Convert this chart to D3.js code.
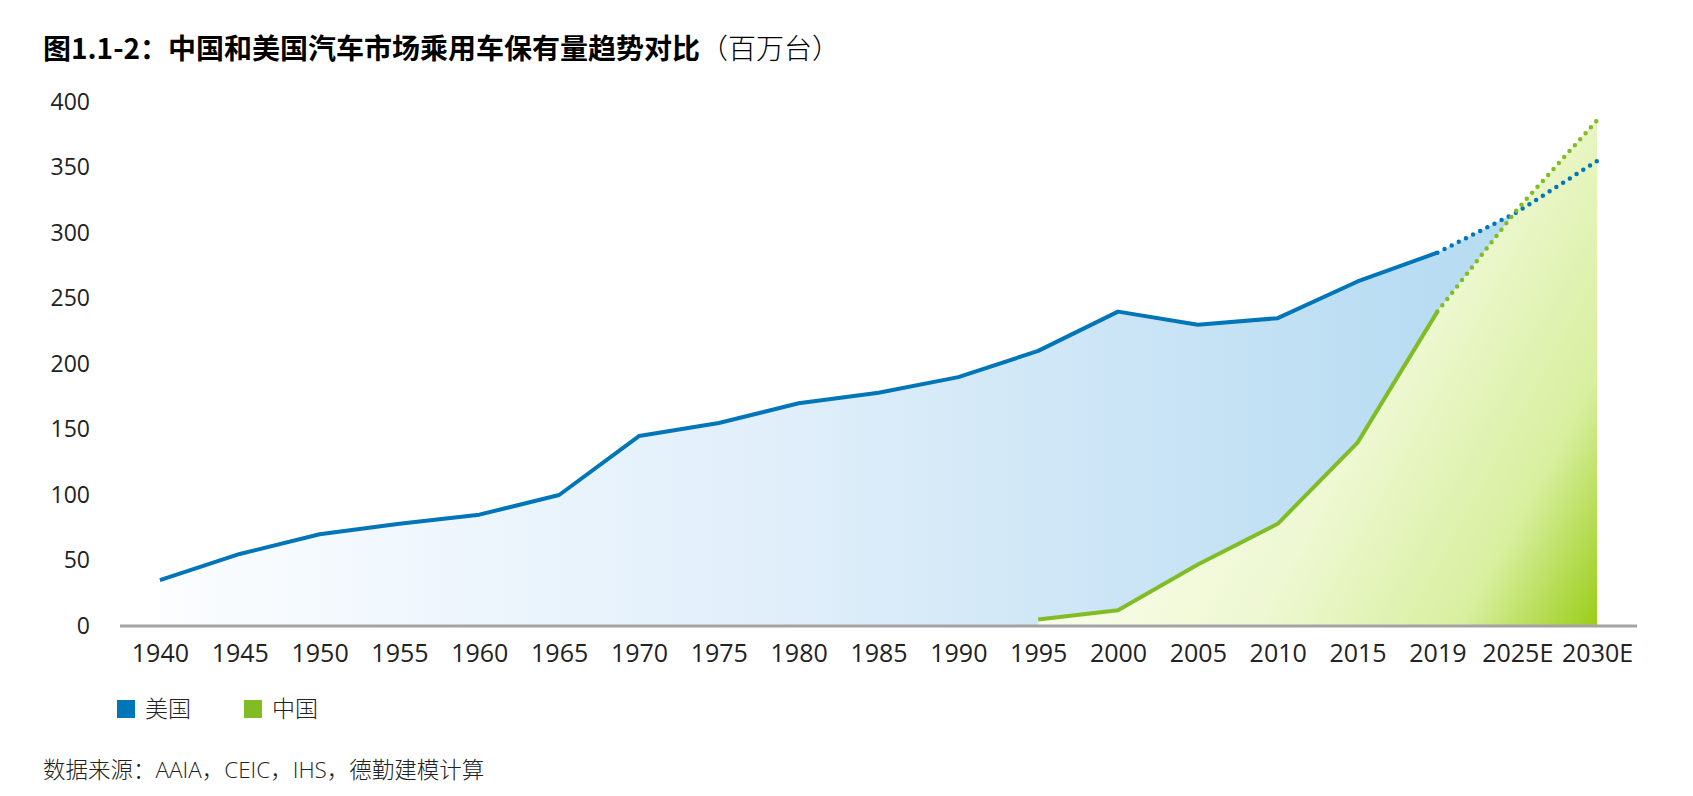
<!DOCTYPE html>
<html>
<head>
<meta charset="utf-8">
<script src="https://cdn.jsdelivr.net/npm/d3@7"></script>
<style>
  body { margin: 0; background: #fff; }
  text { font-family: "Open Sans", "Noto Sans CJK SC", sans-serif; }
</style>
</head>
<body>
<div id="chart"></div>
<script>
// categories and values (millions of cars)
const years = ['1940', '1945', '1950', '1955', '1960', '1965', '1970', '1975', '1980',
  '1985', '1990', '1995', '2000', '2005', '2010', '2015', '2019', '2025E', '2030E'];
const usValues = [35, 55, 70, 78, 85, 100, 145, 155, 170, 178, 190, 210, 240, 230, 235, 263, 285, 316, 355];
const cnYears = ['1995', '2000', '2005', '2010', '2015', '2019', '2025E', '2030E'];
const cnValues = [5, 12, 47, 78, 140, 240, 318, 386];
const yTicks = [0, 50, 100, 150, 200, 250, 300, 350, 400];
const lastActual = '2019';

const W = 1693, H = 796;
const blue = '#0076b8', green = '#82bc25';

const svg = d3.select('#chart').append('svg')
    .attr('width', W)
    .attr('height', H);

const x = d3.scalePoint()
    .domain(years)
    .range([120, 1637])
    .padding(0.5);

const y = d3.scaleLinear()
    .domain([0, 400])
    .range([626, 102]);

const us = years.map((d, i) => ({ year: d, v: usValues[i] }));
const cn = cnYears.map((d, i) => ({ year: d, v: cnValues[i] }));

// gradients
const defs = svg.append('defs');
const gBlue = defs.append('linearGradient')
    .attr('id', 'gBlue')
    .attr('gradientUnits', 'userSpaceOnUse')
    .attr('x1', x('1940')).attr('y1', 0)
    .attr('x2', x('2019')).attr('y2', 0);
gBlue.append('stop').attr('offset', 0).attr('stop-color', '#fbfdff');
gBlue.append('stop').attr('offset', 0.5).attr('stop-color', '#dfeefa');
gBlue.append('stop').attr('offset', 1).attr('stop-color', '#b8dcf2');

const gGreen = defs.append('linearGradient')
    .attr('id', 'gGreen')
    .attr('gradientUnits', 'userSpaceOnUse')
    .attr('x1', x('2000')).attr('y1', y(200))
    .attr('x2', x('2030E')).attr('y2', y(0));
gGreen.append('stop').attr('offset', 0).attr('stop-color', '#fbfef0');
gGreen.append('stop').attr('offset', 0.45).attr('stop-color', '#eef8d2');
gGreen.append('stop').attr('offset', 0.78).attr('stop-color', '#d8ef9f');
gGreen.append('stop').attr('offset', 1).attr('stop-color', '#9acd18');

const area = d3.area()
    .x(d => x(d.year))
    .y0(y(0))
    .y1(d => y(d.v));

const line = d3.line()
    .x(d => x(d.year))
    .y(d => y(d.v));

svg.append('path')
    .datum(us)
    .attr('d', area)
    .attr('fill', 'url(#gBlue)');

svg.append('path')
    .datum(cn)
    .attr('d', area)
    .attr('fill', 'url(#gGreen)');

// axes
const xAxis = svg.append('g')
    .attr('transform', `translate(0,${y(0)})`)
    .call(d3.axisBottom(x).tickSize(0).tickPadding(18).tickSizeOuter(0));
xAxis.select('.domain')
    .attr('stroke', '#a3a3a5')
    .attr('stroke-width', 3)
    .attr('d', `M120,0H1637`);
xAxis.selectAll('text')
    .attr('font-size', 25)
    .attr('fill', '#222')
    .attr('font-family', '"Open Sans", sans-serif');

const yAxis = svg.append('g')
    .attr('transform', 'translate(90,0)')
    .call(d3.axisLeft(y).tickValues(yTicks).tickSize(0).tickPadding(0));
yAxis.select('.domain').remove();
yAxis.selectAll('text')
    .attr('font-size', 23)
    .attr('fill', '#222')
    .attr('font-family', '"Open Sans", sans-serif');

// lines: solid up to 2019, dotted after
function drawSeries(data, color) {
  const k = data.findIndex(d => d.year === lastActual);
  svg.append('path')
      .datum(data.slice(0, k + 1))
      .attr('d', line)
      .attr('fill', 'none')
      .attr('stroke', color)
      .attr('stroke-width', 4)
      .attr('stroke-linejoin', 'round');
  svg.append('path')
      .datum(data.slice(k))
      .attr('d', line)
      .attr('fill', 'none')
      .attr('stroke', color)
      .attr('stroke-width', 4.5)
      .attr('stroke-linecap', 'round')
      .attr('stroke-dasharray', '0 8');
}
drawSeries(us, blue);
drawSeries(cn, green);

// title
const title = svg.append('text')
    .attr('x', 43)
    .attr('y', 59)
    .attr('font-size', 28)
    .attr('fill', '#000');
title.append('tspan')
    .attr('font-weight', 'bold')
    .attr('font-family', '"Noto Sans CJK SC", sans-serif')
    .text('图1.1-2：中国和美国汽车市场乘用车保有量趋势对比');
title.append('tspan')
    .attr('font-family', '"Noto Sans CJK SC", sans-serif')
    .attr('font-weight', 300)
    .text('（百万台）');

// legend
const legendItems = [
  { name: '美国', color: blue, x: 117 },
  { name: '中国', color: green, x: 244 }
];
const lg = svg.append('g');
legendItems.forEach(d => {
  lg.append('rect')
      .attr('x', d.x)
      .attr('y', 700)
      .attr('width', 18)
      .attr('height', 18)
      .attr('fill', d.color);
  lg.append('text')
      .attr('x', d.x + 28)
      .attr('y', 717)
      .attr('font-size', 23)
      .attr('font-weight', 300)
      .attr('fill', '#222')
      .attr('font-family', '"Noto Sans CJK SC", sans-serif')
      .text(d.name);
});

// source
svg.append('text')
    .attr('x', 43)
    .attr('y', 778)
    .attr('font-size', 22.5)
    .attr('font-weight', 300)
    .attr('fill', '#222')
    .attr('font-family', '"Noto Sans CJK SC", sans-serif')
    .text('数据来源：AAIA，CEIC，IHS，德勤建模计算');
</script>
</body>
</html>
